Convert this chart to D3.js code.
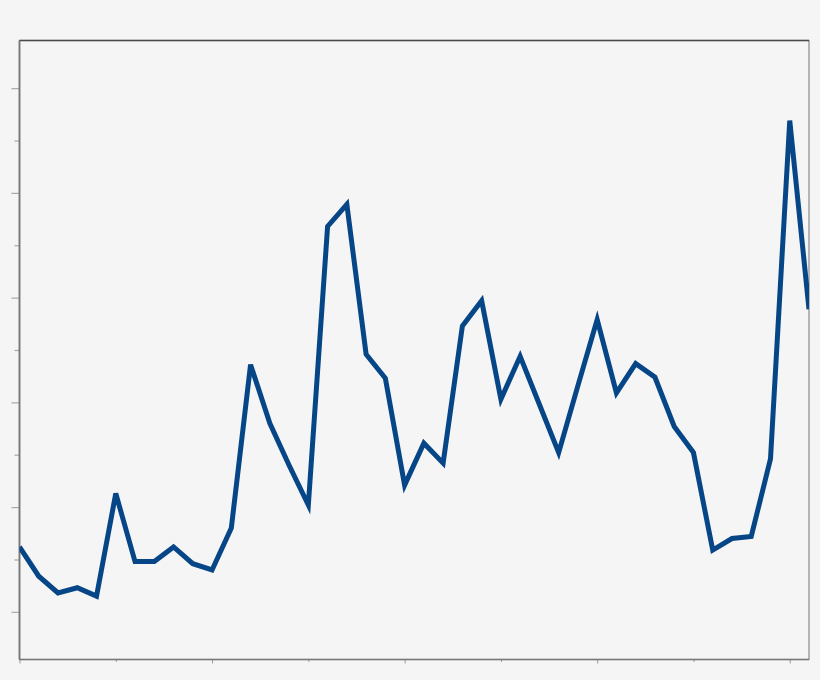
<!DOCTYPE html>
<html>
<head>
<meta charset="utf-8">
<script src="https://cdn.jsdelivr.net/npm/d3@7"></script>
<style>
  html, body { margin: 0; padding: 0; background: #f5f5f6; }
  svg { display: block; }
</style>
</head>
<body>
<script>
// series values (arbitrary units, no labels shown)
const values = [
	16.2, 13.4, 11.8, 12.3, 11.5, 21.3, 14.8, 14.8, 16.2, 14.6,
	14.0, 18.0, 33.6, 28.0, 24.0, 20.2, 46.8, 48.9, 34.6, 32.3,
	22.1, 26.1, 24.2, 37.3, 39.7, 30.3, 34.4, 29.8, 25.2, 31.6,
	37.9, 30.9, 33.7, 32.4, 27.7, 25.2, 15.9, 17.0, 17.2, 24.6,
	56.9, 38.9
];
const xMajorTicks = [0, 10, 20, 30, 40];
const xMinorTicks = [5, 15, 25, 35];
const yMajorTicks = [10, 20, 30, 40, 50, 60];
const yMinorTicks = [15, 25, 35, 45, 55];

const width = 820;
const height = 680;
const margin = { top: 40.5, right: 11, bottom: 20.5, left: 19.5 };

const svg = d3.select('body').append('svg').attr('width', width).attr('height', height);

svg.append('rect').attr('width', width).attr('height', height).attr('fill', '#f5f5f6');

const x = d3.scaleLinear()
	.domain([0, values.length - 1])
	.range([margin.left, width - margin.right]);

const y = d3.scaleLinear()
	.domain([5.45, 64.55])
	.range([height - margin.bottom, margin.top]);

/*
	ticks
*/
const gAxes = svg.append('g').attr('class', 'axes');

const xAxisMajor = d3.axisBottom(x).tickValues(xMajorTicks).tickSize(4).tickFormat('');
const xAxisMinor = d3.axisBottom(x).tickValues(xMinorTicks).tickSize(2.5).tickFormat('');
const yAxisMajor = d3.axisLeft(y).tickValues(yMajorTicks).tickSize(8).tickFormat('');
const yAxisMinor = d3.axisLeft(y).tickValues(yMinorTicks).tickSize(5).tickFormat('');

[xAxisMajor, xAxisMinor].forEach((axis) => {
	gAxes.append('g')
		.attr('transform', `translate(0,${height - margin.bottom})`)
		.call(axis)
		.call((g) => g.select('.domain').remove())
		.call((g) => g.selectAll('line').attr('stroke', '#9a9a9a').attr('stroke-width', 1));
});

[yAxisMajor, yAxisMinor].forEach((axis) => {
	gAxes.append('g')
		.attr('transform', `translate(${margin.left},0)`)
		.call(axis)
		.call((g) => g.select('.domain').remove())
		.call((g) => g.selectAll('line').attr('stroke', '#a8a8a8').attr('stroke-width', 1.2));
});

/*
	plot frame
*/
const gFrame = svg.append('g').attr('class', 'frame');
gFrame.append('rect')
	.attr('x', margin.left)
	.attr('y', margin.top)
	.attr('width', width - margin.left - margin.right)
	.attr('height', height - margin.top - margin.bottom)
	.attr('fill', 'none')
	.attr('stroke', '#8a8a8a')
	.attr('stroke-width', 1.2);
gFrame.append('line')
	.attr('x1', margin.left)
	.attr('x2', width - margin.right)
	.attr('y1', margin.top)
	.attr('y2', margin.top)
	.attr('stroke', '#4a4a4a')
	.attr('stroke-width', 1.5);
gFrame.append('line')
	.attr('x1', margin.left)
	.attr('x2', margin.left)
	.attr('y1', margin.top)
	.attr('y2', height - margin.bottom)
	.attr('stroke', '#777')
	.attr('stroke-width', 1.8);
gFrame.append('line')
	.attr('x1', margin.left)
	.attr('x2', width - margin.right)
	.attr('y1', height - margin.bottom)
	.attr('y2', height - margin.bottom)
	.attr('stroke', '#777')
	.attr('stroke-width', 1.6);

/*
	series line
*/
const clip = svg.append('clipPath').attr('id', 'plot-clip');
clip.append('rect')
	.attr('x', margin.left)
	.attr('y', margin.top)
	.attr('width', width - margin.left - margin.right)
	.attr('height', height - margin.top - margin.bottom);

const line = d3.line()
	.x((d, i) => x(i))
	.y((d) => y(d));

svg.append('path')
	.datum(values)
	.attr('clip-path', 'url(#plot-clip)')
	.attr('fill', 'none')
	.attr('stroke', '#064687')
	.attr('stroke-width', 5)
	.attr('stroke-linejoin', 'miter')
	.attr('d', line);
</script>
</body>
</html>
